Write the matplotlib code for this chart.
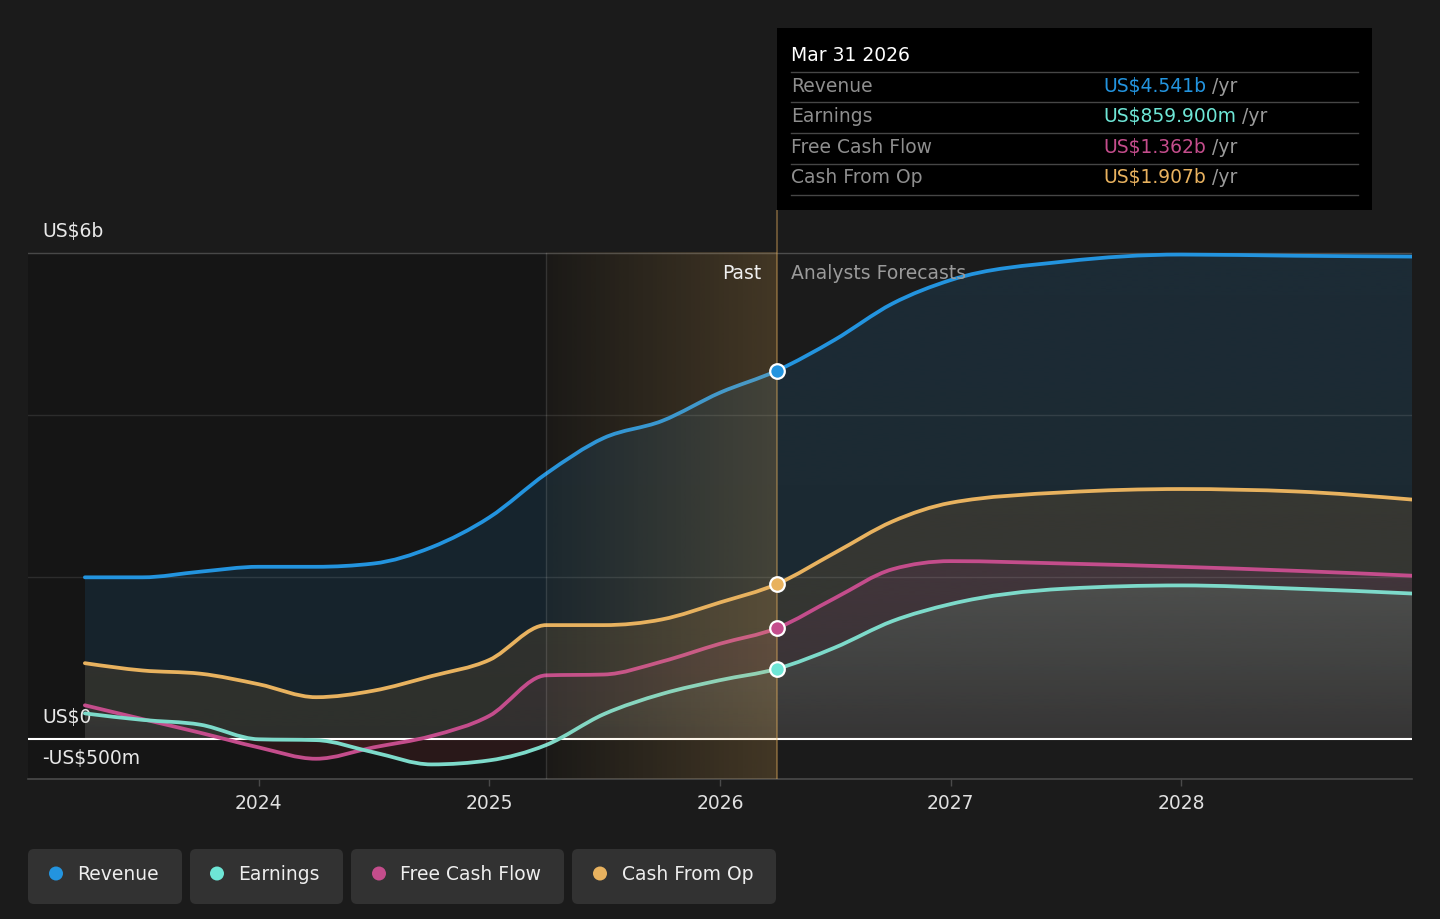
import numpy as np
import pandas as pd
import matplotlib
matplotlib.use("Agg")
import matplotlib.pyplot as plt
from matplotlib.path import Path
from matplotlib.patches import PathPatch, Rectangle, FancyBboxPatch, Circle
from matplotlib.colors import to_rgb

# ---------------- data (US$ billions) ----------------
period_ends = ["2023-03-31", "2023-06-30", "2023-09-30", "2023-12-31",
               "2024-03-31", "2024-06-30", "2024-09-30", "2024-12-31",
               "2025-03-31", "2025-06-30", "2025-09-30", "2025-12-31",
               "2026-03-31", "2026-06-30", "2026-09-30", "2026-12-31",
               "2027-06-30", "2027-12-31", "2028-06-30", "2028-12-31"]
revenue = [1.99, 1.99, 2.06, 2.12, 2.12, 2.16, 2.36, 2.73, 3.27, 3.71, 3.92, 4.27,
           4.541, 4.92, 5.37, 5.66, 5.89, 5.975, 5.96, 5.95]
earnings = [0.31, 0.23, 0.17, -0.01, -0.02, -0.17, -0.32, -0.27, -0.08, 0.30, 0.55, 0.72,
            0.8599, 1.12, 1.45, 1.66, 1.85, 1.89, 1.85, 1.79]
free_cash_flow = [0.41, 0.24, 0.07, -0.11, -0.25, -0.11, 0.03, 0.28, 0.78, 0.79, 0.95, 1.17,
                  1.362, 1.73, 2.09, 2.19, 2.16, 2.12, 2.07, 2.01]
cash_from_op = [0.93, 0.84, 0.80, 0.67, 0.51, 0.59, 0.77, 0.97, 1.40, 1.40, 1.47, 1.68,
                1.907, 2.29, 2.68, 2.91, 3.04, 3.08, 3.05, 2.95]

series_names = ["Revenue", "Earnings", "Free Cash Flow", "Cash From Op"]
tooltip_values = ["US$4.541b", "US$859.900m", "US$1.362b", "US$1.907b"]
tooltip_date = "Mar 31 2026"
highlight_index = 12
band_start = "2025-03-31"
band_end = "2026-03-31"
year_ticks = [2024, 2025, 2026, 2027, 2028]
grid_values = [2, 4, 6]
y_label_values = [6, 0, -0.5]
y_label_texts = ["US$6b", "US$0", "-US$500m"]

# ---------------- styling ----------------
BG = "#1b1b1b"
C_REV = "#2394df"
C_EARN = "#6ee6d6"
C_EARN_LINE = "#7ddaca"
C_FCF = "#c44d8c"
C_CFO = "#e8b25f"
NEG = "#e63c46"


def dec_year(s):
    ts = pd.Timestamp(s)
    return ts.year + ts.dayofyear / (366 if ts.is_leap_year else 365)


xs = np.array([dec_year(d) for d in period_ends])
xb0, xb1 = dec_year(band_start), dec_year(band_end)


def curve_verts(x, y):
    x = np.asarray(x, float)
    y = np.asarray(y, float)
    n = len(x)
    h = np.diff(x)
    s = np.diff(y) / h
    m = np.zeros(n)
    for i in range(1, n - 1):
        if s[i - 1] * s[i] <= 0:
            m[i] = 0.0
        else:
            p = (s[i - 1] * h[i] + s[i] * h[i - 1]) / (h[i - 1] + h[i])
            m[i] = (np.sign(s[i - 1]) + np.sign(s[i])) * min(abs(s[i - 1]), abs(s[i]), 0.5 * abs(p))
    m[0] = (3 * s[0] - m[1]) / 2
    m[-1] = (3 * s[-1] - m[-2]) / 2
    verts = [(x[0], y[0])]
    codes = [Path.MOVETO]
    for i in range(n - 1):
        d = h[i] / 3
        verts += [(x[i] + d, y[i] + m[i] * d), (x[i + 1] - d, y[i + 1] - m[i + 1] * d), (x[i + 1], y[i + 1])]
        codes += [Path.CURVE4] * 3
    return verts, codes


fig = plt.figure(figsize=(14.4, 9.19), dpi=100, facecolor=BG)
ax = fig.add_axes([28 / 1440, 1 - 779 / 919, 1384 / 1440, 569 / 919])
ax.set_facecolor("none")
XLIM = (2023.0, 2029.0)
YLIM = (-0.5, 6.525)

# darker "past" background
ax.add_patch(Rectangle((XLIM[0], -0.5), xb1 - XLIM[0], 6.5, facecolor="#151515",
                       edgecolor="none", zorder=0))

# (values, fill rgb, line colour, alpha at series top, alpha at baseline)
series = [
    (revenue, (35, 148, 223), C_REV, 0.135, 0.115),
    (cash_from_op, (121, 89, 50), C_CFO, 0.30, 0.24),
    (free_cash_flow, (110, 50, 90), C_FCF, 0.25, 0.06),
    (earnings, (118, 170, 142), C_EARN_LINE, 0.22, 0.03),
]

for vals, frgb, lc, a_top, a_bot in series:
    verts, codes = curve_verts(xs, vals)
    av = verts + [(xs[-1], 0.0), (xs[0], 0.0), (xs[0], vals[0])]
    ac = codes + [Path.LINETO, Path.LINETO, Path.CLOSEPOLY]
    area = Path(av, ac)
    ylo = min(min(vals), 0) - 0.05
    yhi = max(vals) + 0.05
    rows = np.linspace(yhi, ylo, 400)
    img = np.zeros((400, 1, 4))
    rgb = np.array(frgb) / 255.0
    nrgb = np.array(to_rgb(NEG))
    for k, yv in enumerate(rows):
        if yv >= 0:
            f = min(yv / max(vals), 1.0)
            img[k, 0, :3] = rgb
            img[k, 0, 3] = a_bot + (a_top - a_bot) * f
        else:
            img[k, 0, :3] = nrgb
            img[k, 0, 3] = 0.10
    im = ax.imshow(img, extent=[xs[0], xs[-1], ylo, yhi], aspect="auto", origin="upper",
                   interpolation="bilinear", zorder=1)
    clip = PathPatch(area, transform=ax.transData, facecolor="none", edgecolor="none")
    im.set_clip_path(clip)
    ax.add_patch(PathPatch(Path(verts, codes), facecolor="none", edgecolor=lc, lw=2.7,
                           capstyle="round", joinstyle="round", zorder=3))

# grid lines
for g in grid_values:
    ax.axhline(g, color="white", alpha=0.22 if g == 6 else 0.1, lw=1, zorder=1.5)
ax.axhline(0, color="white", lw=1.5, zorder=2)

# y labels
for v, t in zip(y_label_values, y_label_texts):
    ax.annotate(t, xy=(14 / 1384, v), xycoords=("axes fraction", "data"),
                xytext=(0, 15), textcoords="offset points", va="center", ha="left",
                color="#e8e8e8", fontsize=13.5, zorder=2.5)

# highlight band (over lines)
grad = np.zeros((1, 256, 4))
grad[0, :, :3] = np.array(to_rgb(C_CFO))
grad[0, :, 3] = np.linspace(0.03, 0.22, 256)
ax.imshow(grad, extent=[xb0, xb1, -0.5, 6.0], aspect="auto", origin="upper",
          interpolation="bilinear", zorder=4)
ax.plot([xb0, xb0], [-0.5, 6.0], color="white", alpha=0.12, lw=1, zorder=4.5)
ax.axvline(xb1, color=C_CFO, alpha=0.45, lw=1.2, zorder=4.5)

# markers at the highlighted date
for vals, col in [(revenue, C_REV), (cash_from_op, C_CFO), (free_cash_flow, C_FCF), (earnings, C_EARN)]:
    ax.plot([xs[highlight_index]], [vals[highlight_index]], "o", ms=10.5, mfc=col,
            mec="white", mew=1.6, zorder=6)

# Past / forecast labels
ax.annotate("Past", xy=(xb1, 5.74), xytext=(-11, 0), textcoords="offset points",
            ha="right", va="center", color="#f0f0f0", fontsize=13.5, zorder=7)
ax.annotate("Analysts Forecasts", xy=(xb1, 5.74), xytext=(10, 0), textcoords="offset points",
            ha="left", va="center", color="#9a9a9a", fontsize=13.5, zorder=7)

ax.set_xlim(*XLIM)
ax.set_ylim(*YLIM)
ax.set_xticks(year_ticks)
ax.set_xticklabels([str(y) for y in year_ticks])
ax.set_yticks([])
for sp in ["top", "left", "right"]:
    ax.spines[sp].set_visible(False)
ax.spines["bottom"].set_color("#4a4a4a")
ax.spines["bottom"].set_linewidth(1.2)
ax.tick_params(axis="x", colors="#4a4a4a", length=5, width=1, direction="out",
               labelcolor="#e0e0e0", labelsize=13.5, pad=5.5)

# ---------------- overlay (pixel coords) ----------------
ov = fig.add_axes([0, 0, 1, 1], zorder=10)
ov.set_xlim(0, 1440)
ov.set_ylim(919, 0)
ov.axis("off")
ov.set_facecolor("none")

# tooltip
ov.add_patch(Rectangle((777, 28), 595, 182, facecolor="black", edgecolor="none"))
ov.text(791, 55.5, tooltip_date, color="white", fontsize=13.5, va="center", ha="left")
row_y = [86.5, 116.5, 147.5, 177.5]
sep_y = [72, 102, 133, 164, 195]
for sy in sep_y:
    ov.plot([791, 1358], [sy, sy], color="#464646", lw=1)
value_colors = [C_REV, C_EARN, C_FCF, C_CFO]
value_texts = []
for name, val, col, ry in zip(series_names, tooltip_values, value_colors, row_y):
    ov.text(791, ry, name, color="#8e8e8e", fontsize=13.5, va="center", ha="left")
    value_texts.append(ov.text(1103, ry, val, color=col, fontsize=13.5, va="center", ha="left"))

fig.canvas.draw()
inv = ov.transData.inverted()
for t, ry in zip(value_texts, row_y):
    bb = t.get_window_extent()
    xe = inv.transform((bb.x1, bb.y0))[0]
    ov.text(xe + 6, ry, "/yr", color="#9a9a9a", fontsize=13.5, va="center", ha="left")

# legend pills
pills = [(28, 154), (190, 153), (351, 213), (572, 204)]
dot_x = [56, 217, 379, 600]
legend_colors = [C_REV, C_EARN, C_FCF, C_CFO]
for (px, pw), dx, col, name in zip(pills, dot_x, legend_colors, series_names):
    ov.add_patch(FancyBboxPatch((px, 849), pw, 55, boxstyle="round,pad=0,rounding_size=6",
                                facecolor="#323232", edgecolor="none"))
    ov.add_patch(Circle((dx, 873.5), 7, facecolor=col, edgecolor="none"))
    ov.text(dx + 21.5, 874, name, color="#eeeeee", fontsize=13.5, va="center", ha="left")

fig.savefig("out.png", dpi=100, facecolor=BG)
